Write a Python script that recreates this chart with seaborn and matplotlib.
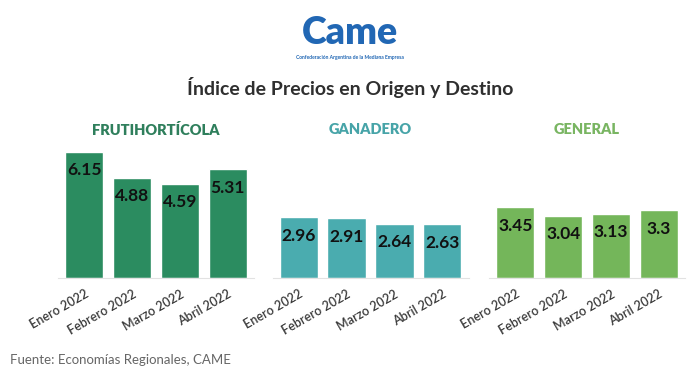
import matplotlib
matplotlib.use("Agg")
import matplotlib.pyplot as plt
import seaborn as sns
import pandas as pd

# data
months = ["Enero 2022", "Febrero 2022", "Marzo 2022", "Abril 2022"]
groups = ["FRUTIHORTÍCOLA", "GANADERO", "GENERAL"]
frutihorticola = [6.15, 4.88, 4.59, 5.31]
ganadero = [2.96, 2.91, 2.64, 2.63]
general = [3.45, 3.04, 3.13, 3.3]
value_labels = [["6.15", "4.88", "4.59", "5.31"],
                ["2.96", "2.91", "2.64", "2.63"],
                ["3.45", "3.04", "3.13", "3.3"]]

bar_colors = ["#2b8c60", "#4aacaf", "#74b65a"]
title_colors = ["#2f7f5c", "#47a4a8", "#79b562"]

sns.set_style("white")
plt.rcParams["font.family"] = ["Lato", "DejaVu Sans"]

fig = plt.figure(figsize=(7, 3.7), dpi=100)
W, H = 700, 370

# axes placement in pixels: left, width
ax_left = [58, 272.5, 489]
ax_w = 196
base_y = 278
ymax = 7.0
px_per_unit = 20.5
ax_h = ymax * px_per_unit

series = [frutihorticola, ganadero, general]
for i, vals in enumerate(series):
    ax = fig.add_axes([ax_left[i] / W, 1 - base_y / H, ax_w / W, ax_h / H])
    df = pd.DataFrame({"mes": months, "valor": vals})
    sns.barplot(data=df, x="mes", y="valor", color=bar_colors[i], width=0.8,
                saturation=1, ax=ax)
    ax.set_ylim(0, ymax)
    ax.set_xlim(-0.55, 3.55)
    ax.set_xlabel("")
    ax.set_ylabel("")
    ax.set_yticks([])
    for s in ["top", "right", "left"]:
        ax.spines[s].set_visible(False)
    ax.spines["bottom"].set_color("#e2e2e2")
    ax.spines["bottom"].set_linewidth(0.8)
    ax.tick_params(axis="x", length=4, color="#e2e2e2", pad=3)
    ax.set_xticks(range(len(months)))
    ax.set_xticklabels(months, rotation=30, ha="right", rotation_mode="anchor",
                       fontsize=9, fontweight="semibold", color="#3a3a3a")
    for j, v in enumerate(vals):
        ax.text(j, v - 0.9, value_labels[i][j], ha="center", va="center",
                fontsize=12.5, fontweight="bold", color="#111111")
    # group title
    fig.text((ax_left[i] + ax_w / 2) / W, 1 - 130 / H, groups[i],
             ha="center", va="center", fontsize=10.5, fontweight="heavy",
             color=title_colors[i])

# logo
fig.text(350 / W, 1 - 33 / H, "Came", ha="center", va="center", fontsize=27,
         fontweight="heavy", color="#2167b4")
fig.text(350 / W, 1 - 57 / H, "Confederación Argentina de la Mediana Empresa",
         ha="center", va="center", fontsize=3.6, fontweight="bold", color="#2167b4")

fig.text(350 / W, 1 - 88 / H, "Índice de Precios en Origen y Destino",
         ha="center", va="center", fontsize=14, fontweight="bold", color="#2f2f2f")

fig.text(10 / W, 1 - 360 / H, "Fuente: Economías Regionales, CAME",
         ha="left", va="center", fontsize=9.5, color="#666666")

fig.savefig("out.png", dpi=100, facecolor="white")
